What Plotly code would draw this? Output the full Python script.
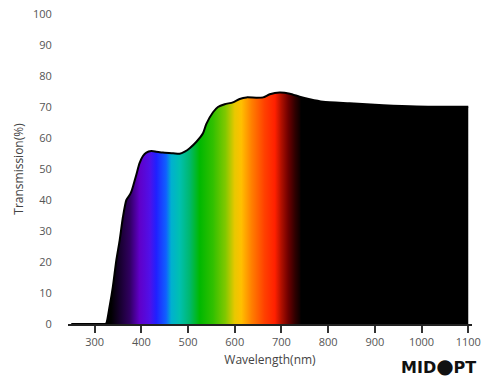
import plotly.graph_objects as go

# Transmission curve
wavelength = [250, 300, 322, 325, 332, 339, 346.5, 353.6, 360.7, 368, 375, 378.6, 382, 389, 396,
              403.5, 410.7, 421.5, 432, 446, 468, 482, 493, 503.5, 518, 532, 539, 553.5, 564,
              578.5, 596, 610.7, 625, 646, 660.7, 675, 696, 718, 739, 760.7, 789, 846, 918, 989, 1100]
transmission = [0, 0, 0, 0.2, 5.6, 12, 20.6, 27, 34.6, 40, 41.6, 42.7, 44.3, 48, 51.8,
                54.2, 55.3, 55.8, 55.6, 55.3, 55.1, 54.9, 55.6, 56.7, 58.8, 61.5, 64.5, 68.3, 70.0,
                70.9, 71.5, 72.6, 73.1, 73.0, 73.1, 74.1, 74.7, 74.3, 73.3, 72.5, 71.7, 71.2, 70.6, 70.2, 70.1]

# Spectrum colours along the wavelength axis
spec_nm = [250, 335, 375, 396, 418, 432, 453, 464, 482, 503, 525, 553, 580, 600, 614, 636, 664,
           686, 700, 714, 729, 739, 742, 1100]
spec_col = ["#000000", "#000000", "#300060", "#6000c8", "#5010e8", "#2020ff", "#1060ff", "#00b0d0",
            "#00c0b0", "#00b870", "#00b800", "#30c000", "#80c800", "#e8c800", "#ffc000", "#ff8000",
            "#ff4000", "#ff2000", "#b01000", "#700000", "#300000", "#100000", "#000000", "#000000"]

x_ticks = [300, 400, 500, 600, 700, 800, 900, 1000, 1100]
y_ticks = [0, 10, 20, 30, 40, 50, 60, 70, 80, 90, 100]

lo, hi = spec_nm[0], spec_nm[-1]
colorscale = [[(w - lo) / (hi - lo), c] for w, c in zip(spec_nm, spec_col)]

fig = go.Figure()
fig.add_trace(go.Scatter(
    x=wavelength, y=transmission, mode="lines",
    line=dict(color="#000000", width=2, shape="spline", smoothing=0.6),
    fill="tozeroy",
    fillgradient=dict(type="horizontal", colorscale=colorscale, start=lo, stop=hi),
    hoverinfo="skip", showlegend=False,
))

W, H = 500, 388
L, T, R, B = 68, 14, 28, 64
PW, PH = W - L - R, H - T - B

font_col = "#555555"
fig.update_layout(
    width=W, height=H,
    margin=dict(l=L, r=R, t=T, b=B, autoexpand=False),
    paper_bgcolor="white", plot_bgcolor="white",
    font=dict(family="Open Sans", size=11, color=font_col),
    xaxis=dict(
        range=[243, 1108], tickvals=x_ticks, ticks="outside", ticklen=7, tickwidth=1.5,
        tickcolor="#333333", showline=True, linecolor="#222222", linewidth=1.5,
        showgrid=False, zeroline=False, automargin=False, ticklabeloverflow="allow",
        title=dict(text="Wavelength(nm)", font=dict(size=12, color="#444444"), standoff=8),
    ),
    yaxis=dict(
        range=[0, 100], tickvals=y_ticks, ticks="outside", ticklen=13,
        tickcolor="rgba(0,0,0,0)", showline=False, showgrid=False, zeroline=False,
        automargin=False, ticklabeloverflow="allow",
        title=dict(text="Transmission(%)", font=dict(size=12, color="#444444"), standoff=6),
    ),
    annotations=[dict(
        text="<b>MID<span style='font-size:20px'>●</span>PT</b>",
        xref="paper", yref="paper", x=(438 - L) / PW, y=(324 - 366) / PH,
        xanchor="center", yanchor="middle",
        showarrow=False, font=dict(family="DejaVu Sans", size=16, color="#111111"),
    )],
)

fig.write_html("out.html", config={"displayModeBar": False},
               post_script="document.body.style.margin='0';document.body.style.overflow='hidden';")
